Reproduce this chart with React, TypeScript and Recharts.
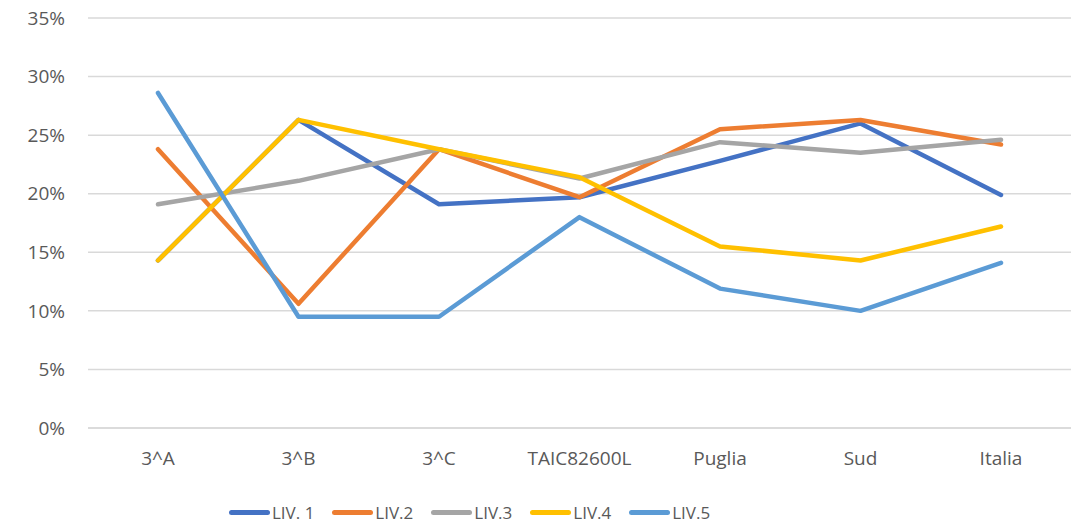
import React from "react";
import { LineChart, Line, XAxis, YAxis, CartesianGrid, Legend } from "recharts";

const categories = ["3^A", "3^B", "3^C", "TAIC82600L", "Puglia", "Sud", "Italia"];
const liv1 = [14.3, 26.3, 19.1, 19.7, 22.8, 26.0, 19.9];
const liv2 = [23.8, 10.6, 23.8, 19.7, 25.5, 26.3, 24.2];
const liv3 = [19.1, 21.1, 23.8, 21.3, 24.4, 23.5, 24.6];
const liv4 = [14.3, 26.3, 23.8, 21.4, 15.5, 14.3, 17.2];
const liv5 = [28.6, 9.5, 9.5, 18.0, 11.9, 10.0, 14.1];
const yTicks = [0, 5, 10, 15, 20, 25, 30, 35];

const series = [
  { key: "liv1", name: "LIV. 1", color: "#4472C4", values: liv1 },
  { key: "liv2", name: "LIV.2", color: "#ED7D31", values: liv2 },
  { key: "liv3", name: "LIV.3", color: "#A5A5A5", values: liv3 },
  { key: "liv4", name: "LIV.4", color: "#FFC000", values: liv4 },
  { key: "liv5", name: "LIV.5", color: "#5B9BD5", values: liv5 },
];

const data = categories.map((c, i) => {
  const row: Record<string, string | number> = { name: c };
  series.forEach((s) => {
    row[s.key] = s.values[i];
  });
  return row;
});

const FONT = "'Open Sans', sans-serif";

const renderLegend = () => (
  <div
    style={{
      display: "flex",
      alignItems: "center",
      paddingLeft: 229,
      gap: 18,
      height: 20,
      fontFamily: FONT,
      fontSize: 17,
      color: "#595959",
    }}
  >
    {series.map((s) => (
      <div key={s.key} style={{ display: "flex", alignItems: "center" }}>
        <div
          style={{
            width: 41,
            height: 5,
            borderRadius: 3,
            background: s.color,
            marginRight: 2,
          }}
        />
        <span>{s.name}</span>
      </div>
    ))}
  </div>
);

export default function App() {
  return (
    <div style={{ position: "absolute", left: 0, top: 0, width: 1082, height: 522, background: "#fff" }}>
      <LineChart
        width={1082}
        height={522}
        data={data}
        margin={{ top: 18, right: 11, bottom: 0, left: 0 }}
      >
        <CartesianGrid vertical={false} stroke="#d9d9d9" strokeWidth={1.5} />
        <XAxis
          dataKey="name"
          padding={{ left: 70, right: 70 }}
          height={74}
          tickLine={false}
          axisLine={{ stroke: "#d9d9d9", strokeWidth: 1.5 }}
          tickSize={0}
          tickMargin={24}
          tick={{ fill: "#595959", fontSize: 19, fontFamily: FONT }}
          interval={0}
        />
        <YAxis
          width={88}
          domain={[0, 35]}
          ticks={yTicks}
          tickFormatter={(v: number) => `${v}%`}
          axisLine={false}
          tickLine={false}
          tickSize={0}
          tickMargin={23}
          tick={{ fill: "#595959", fontSize: 19, fontFamily: FONT }}
        />
        <Legend verticalAlign="bottom" height={20} content={renderLegend} />
        {series.map((s) => (
          <Line
            key={s.key}
            type="linear"
            dataKey={s.key}
            name={s.name}
            stroke={s.color}
            strokeWidth={4.5}
            strokeLinejoin="round"
            strokeLinecap="round"
            dot={false}
            activeDot={false}
            isAnimationActive={false}
          />
        ))}
      </LineChart>
    </div>
  );
}
